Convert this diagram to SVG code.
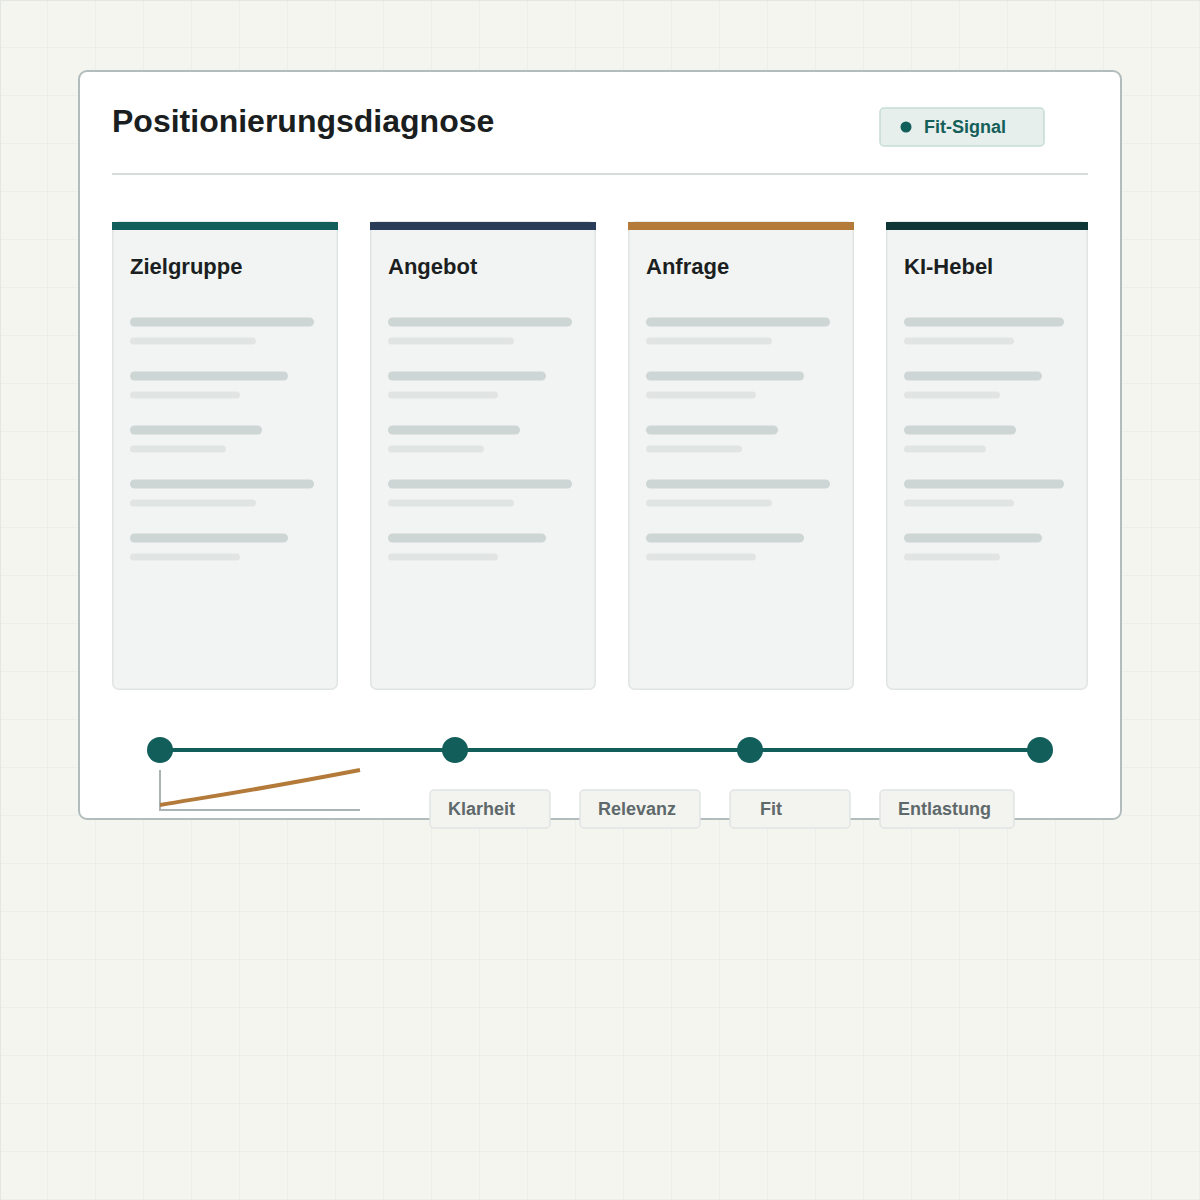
<svg xmlns="http://www.w3.org/2000/svg" width="1200" height="1200" viewBox="0 0 1200 1200">
<defs>
<pattern id="grid" width="48" height="48" patternUnits="userSpaceOnUse">
<path d="M48 0V48M0 48H48" fill="none" stroke="#e2e7e4" stroke-width="1"/>
</pattern>
<style>
.t{font-family:"Liberation Sans",Arial,sans-serif;font-weight:bold}
.ct{font-size:22px;fill:#1b1f21}
.card{fill:#f2f4f3;stroke:#e0e4e3;stroke-width:1.5}
.sk1{fill:#cdd5d5}
.sk2{fill:#e0e5e4}
.lbl{fill:#f3f4f0;stroke:#e0e4e2;stroke-width:1.5}
.lt{font-size:18px;fill:#5f696b}
.dot{fill:#115e5b}
</style>
<g id="sk">
<rect class="sk1" x="0" y="-4.5" width="184" height="9" rx="4.5"/>
<rect class="sk2" x="0" y="15.5" width="126" height="7" rx="3.5"/>
<rect class="sk1" x="0" y="49.5" width="158" height="9" rx="4.5"/>
<rect class="sk2" x="0" y="69.5" width="110" height="7" rx="3.5"/>
<rect class="sk1" x="0" y="103.5" width="132" height="9" rx="4.5"/>
<rect class="sk2" x="0" y="123.5" width="96" height="7" rx="3.5"/>
<rect class="sk1" x="0" y="157.5" width="184" height="9" rx="4.5"/>
<rect class="sk2" x="0" y="177.5" width="126" height="7" rx="3.5"/>
<rect class="sk1" x="0" y="211.5" width="158" height="9" rx="4.5"/>
<rect class="sk2" x="0" y="231.5" width="110" height="7" rx="3.5"/>
</g>
</defs>
<rect width="1200" height="1200" fill="#f5f5f0"/>
<rect width="1200" height="1200" fill="url(#grid)" transform="translate(0,0)"/>
<path d="M0 0.5H1200M0.5 0V1200" stroke="#e2e7e4" stroke-width="1"/>

<g id="frame">
<rect x="79" y="71" width="1042" height="748" rx="8" fill="#ffffff" stroke="#b2bcbc" stroke-width="2"/>
<text class="t" x="112" y="132" font-size="32" fill="#1a1e20">Positionierungsdiagnose</text>
<line x1="112" y1="174" x2="1088" y2="174" stroke="#d6dcdc" stroke-width="2"/>
</g>

<g id="fit-signal">
<rect x="880" y="108" width="164" height="38" rx="4" fill="#e6efec" stroke="#c6dcd6" stroke-width="1.5"/>
<circle cx="906" cy="127" r="5.5" class="dot"/>
<text class="t" x="924" y="133" font-size="18" fill="#155e5a">Fit-Signal</text>
</g>

<g id="card-zielgruppe">
<rect class="card" x="112.75" y="222" width="224.5" height="467.25" rx="6"/>
<rect x="112" y="222" width="226" height="8" fill="#115e5b"/>
<text class="t ct" x="130" y="274">Zielgruppe</text>
<use href="#sk" x="130" y="322"/>
</g>

<g id="card-angebot">
<rect class="card" x="370.75" y="222" width="224.5" height="467.25" rx="6"/>
<rect x="370" y="222" width="226" height="8" fill="#293d59"/>
<text class="t ct" x="388" y="274">Angebot</text>
<use href="#sk" x="388" y="322"/>
</g>

<g id="card-anfrage">
<rect class="card" x="628.75" y="222" width="224.5" height="467.25" rx="6"/>
<rect x="628" y="222" width="226" height="8" fill="#b37a3a"/>
<text class="t ct" x="646" y="274">Anfrage</text>
<use href="#sk" x="646" y="322"/>
</g>

<g id="card-ki-hebel">
<rect class="card" x="886.75" y="222" width="200.5" height="467.25" rx="6"/>
<rect x="886" y="222" width="202" height="8" fill="#0e3636"/>
<text class="t ct" x="904" y="274">KI-Hebel</text>
<rect class="sk1" x="904" y="317.5" width="160" height="9" rx="4.5"/>
<rect class="sk2" x="904" y="337.5" width="110" height="7" rx="3.5"/>
<rect class="sk1" x="904" y="371.5" width="138" height="9" rx="4.5"/>
<rect class="sk2" x="904" y="391.5" width="96" height="7" rx="3.5"/>
<rect class="sk1" x="904" y="425.5" width="112" height="9" rx="4.5"/>
<rect class="sk2" x="904" y="445.5" width="82" height="7" rx="3.5"/>
<rect class="sk1" x="904" y="479.5" width="160" height="9" rx="4.5"/>
<rect class="sk2" x="904" y="499.5" width="110" height="7" rx="3.5"/>
<rect class="sk1" x="904" y="533.5" width="138" height="9" rx="4.5"/>
<rect class="sk2" x="904" y="553.5" width="96" height="7" rx="3.5"/>
</g>

<g id="connectors">
<line x1="160" y1="750" x2="1040" y2="750" stroke="#115e5b" stroke-width="4"/>
</g>

<g id="timeline-nodes">
<circle cx="160" cy="750" r="13" class="dot"/>
<circle cx="455" cy="750" r="13" class="dot"/>
<circle cx="750" cy="750" r="13" class="dot"/>
<circle cx="1040" cy="750" r="13" class="dot"/>
</g>

<g id="mini-chart">
<path d="M160 770V810H360" fill="none" stroke="#aab4b4" stroke-width="2"/>
<path d="M160 805C200 798 240 793 360 770" fill="none" stroke="#b37a3a" stroke-width="4"/>
</g>

<g id="label-klarheit">
<rect class="lbl" x="430" y="790" width="120" height="38" rx="4"/>
<text class="t lt" x="448" y="815">Klarheit</text>
</g>
<g id="label-relevanz">
<rect class="lbl" x="580" y="790" width="120" height="38" rx="4"/>
<text class="t lt" x="598" y="815">Relevanz</text>
</g>
<g id="label-fit">
<rect class="lbl" x="730" y="790" width="120" height="38" rx="4"/>
<text class="t lt" x="760" y="815">Fit</text>
</g>
<g id="label-entlastung">
<rect class="lbl" x="880" y="790" width="134" height="38" rx="4"/>
<text class="t lt" x="898" y="815">Entlastung</text>
</g>
</svg>
